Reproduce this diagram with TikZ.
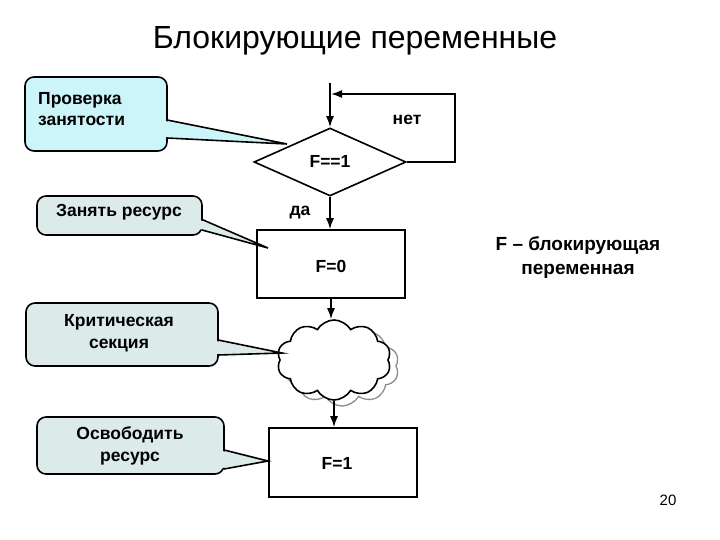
\documentclass[tikz,border=0pt]{standalone}
\usepackage{fontspec}
\setmainfont{Liberation Sans}
\usetikzlibrary{shapes.geometric,shapes.symbols,arrows.meta,calc}
\definecolor{calloutA}{HTML}{CCF5FA}
\definecolor{calloutB}{HTML}{DCEAEA}
\begin{document}
\begin{tikzpicture}[x=1pt,y=-1pt,
  lw/.style={line width=1.6pt},
  arr/.style={lw,-{Latex[length=11pt,width=8pt]}},
  flowbox/.style={draw,lw,rectangle,minimum width=148pt,minimum height=68pt,inner sep=0pt},
  bigtxt/.style={font=\fontsize{17.5}{20}\selectfont\bfseries},
  calltxt/.style={font=\fontsize{17.5}{21.5}\selectfont\bfseries,align=center,inner sep=0pt},
  callbox/.style={draw,lw,rectangle,rounded corners=9pt,inner sep=0pt},
  ptr/.style={lw,line join=miter}
]
\useasboundingbox (0,0) rectangle (720,540);

% title
\node[font=\fontsize{32}{36}\selectfont] (title) at (355,41) {Блокирующие переменные};

% flow
\coordinate (start) at (330,83);
\node[draw,lw,diamond,minimum width=152pt,minimum height=68pt,inner sep=0pt,aspect=2.2] (dec) at (330,162) {};
\node[bigtxt] (dectxt) at (330,161) {F==1};
\node[flowbox] (box0) at (331,264) {};
\node[bigtxt] (box0txt) at (331,266) {F=0};
\node[draw=gray!90,line width=1.3pt,cloud,cloud puffs=10,cloud puff arc=120,aspect=1.45,minimum width=114pt,minimum height=80pt,fill=white] (cloudg) at (342,366) {};
\node[draw,lw,cloud,cloud puffs=10,cloud puff arc=120,aspect=1.45,minimum width=114pt,minimum height=80pt,fill=white] (cloud) at (334,360) {};
\node[flowbox,minimum height=69pt] (box1) at (343,462.5) {};
\node[bigtxt] (box1txt) at (337,463) {F=1};

\draw[arr] (start) -- (dec.north);
\coordinate (loopa) at (455,162);
\coordinate (loopb) at (455,94);
\coordinate (loopc) at (331,94);
\draw[arr,line join=miter] (dec.east) -- (loopa) -- (loopb) -- (loopc);
\draw[arr] (dec.south) -- (dec.south |- box0.north);
\draw[arr] (box0.south) -- (box0.south |- cloud.north);
\draw[arr] (cloud.south) -- (cloud.south |- box1.north);

\node[bigtxt] (net) at (407,120) {нет};
\node[bigtxt] (da) at (300,213) {да};

% side text
\node[font=\fontsize{19}{24}\selectfont\bfseries,align=center] (ftxt) at (578,258) {F -- блокирующая\\переменная};

\node[font=\fontsize{15}{17}\selectfont] (pg) at (668,500) {20};

% callout 1
\node[callbox,fill=calloutA,minimum width=142pt,minimum height=74pt] (c1) at (96,114) {};
\fill[calloutA] (165,121) -- (287,144) -- (165,137) -- cycle;
\draw[ptr] (167,120) -- (287,144) -- (167,138);
\node[calltxt,align=left,anchor=west] (c1t) at (38,109) {Проверка\\занятости};

% callout 2
\node[callbox,fill=calloutB,minimum width=165pt,minimum height=39pt] (c2) at (119.5,215.5) {};
\fill[calloutB] (200,220) -- (268,248) -- (200,229) -- cycle;
\draw[ptr] (202,219.5) -- (268,248) -- (202,230);
\node[calltxt] (c2t) at (119,212) {Занять ресурс};

% callout 3
\node[callbox,fill=calloutB,minimum width=192pt,minimum height=63pt] (c3) at (122,334.5) {};
\fill[calloutB] (216,341) -- (282,353) -- (216,354) -- cycle;
\draw[ptr] (218,340) -- (282,353) -- (218,355);
\node[calltxt] (c3t) at (119,333) {Критическая\\секция};

% callout 4
\node[callbox,fill=calloutB,minimum width=187pt,minimum height=57pt] (c4) at (130.5,445.5) {};
\fill[calloutB] (222,451) -- (268,461) -- (222,468) -- cycle;
\draw[ptr] (224,450) -- (268,461) -- (224,469);
\node[calltxt] (c4t) at (130,446) {Освободить\\ресурс};
\end{tikzpicture}
\end{document}
